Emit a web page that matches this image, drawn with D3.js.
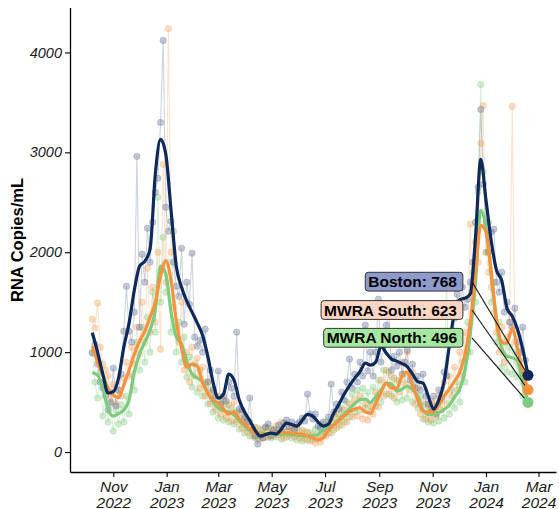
<!DOCTYPE html>
<html><head><meta charset="utf-8">
<script src="https://cdn.jsdelivr.net/npm/d3@7"></script>
<style>body{margin:0;background:#fff} svg{display:block}</style>
</head><body>
<svg id="c" width="559" height="509"></svg>
<script>
// ---------- DATA ----------
const seriesNames = ["Boston", "MWRA South", "MWRA North"];
const firstSample = "2022-10-08";   // date of first sample
const rawStepDays = 3;               // spacing of raw samples
const smoothStepDays = 6;            // spacing of smoothed trend values

const bostonRaw = [990,1080,880,700,640,560,420,500,840,460,
620,780,1210,1660,1210,1100,1400,2960,1250,1980,
1700,2240,1900,2300,2600,2740,3300,4120,2450,2210,
2310,1900,1660,1560,2040,1280,1700,1480,1990,1150,
1060,1120,1000,1230,700,820,620,560,810,480,
560,510,700,640,560,1200,430,420,350,300,
540,220,160,80,170,140,250,280,160,220,
190,270,200,290,320,250,300,220,280,300,
340,310,580,380,330,380,260,240,300,230,
350,680,400,480,430,600,520,700,930,640,
780,700,900,760,1270,810,1000,760,1000,1530,
900,1060,1270,1370,820,960,860,1000,780,900,
1020,720,880,640,760,620,780,560,480,400,
560,380,620,540,800,760,1150,1100,1340,1580,
1400,1650,1450,1530,1700,1900,2300,2650,3430,2680,
2300,2000,2200,2230,1700,1600,1800,1400,1500,1300,
1250,1440,1100,1000,1250,920,780];

const southRaw = [1330,1240,1490,1050,880,820,760,540,680,480,
620,560,740,900,760,1050,880,1250,980,1500,
1100,1840,1200,1650,1300,2000,1030,2880,1700,4240,
2000,1450,1250,1100,1500,820,1000,700,1050,760,
940,640,850,560,700,480,600,420,560,380,
520,340,470,310,500,300,400,240,330,200,
300,160,250,130,220,140,240,150,230,160,
260,170,300,140,250,170,230,150,240,140,
220,130,200,110,170,90,150,100,200,160,
280,190,340,240,380,270,420,300,480,350,
520,360,560,330,480,320,460,380,600,450,
720,560,820,580,760,540,720,600,900,680,
1000,620,800,480,640,380,500,330,460,320,
500,360,560,420,700,480,760,560,850,620,
1000,760,1200,1000,2280,1400,2100,1900,3090,3470,
2000,1800,1650,1400,1200,1000,1250,900,1150,1300,
3460,1100,900,1000,700,780,640];

const northRaw = [1000,700,540,800,360,620,300,480,210,420,
280,470,300,560,380,780,620,1100,820,1250,
900,1350,1000,1600,1200,2550,1500,2150,1600,1900,
1200,2210,1000,1300,900,1150,750,950,650,880,
600,820,560,700,480,640,400,560,340,500,
320,480,300,440,280,400,230,340,190,300,
160,250,140,240,130,230,150,240,140,220,
150,230,130,240,150,210,140,220,120,210,
110,200,120,190,120,230,140,280,170,300,
190,330,220,380,260,440,300,500,350,580,
400,620,420,640,440,600,400,650,460,720,
500,820,580,800,560,740,500,720,520,780,
540,760,500,680,440,560,330,480,300,440,
290,460,310,520,340,1700,380,620,440,700,
500,900,700,1300,1000,1800,1500,2600,3680,2800,
2000,2300,1500,1700,1100,1300,850,1100,800,1050,
780,1000,750,850,560,620,500];

const bostonSmooth = [1195,1000,780,590,605,740,1050,1290,1620,1860,
1910,2030,2780,3130,2980,2420,1860,1650,1510,1400,
1290,1170,960,700,540,580,780,720,520,400,
315,220,160,175,190,180,230,290,275,260,
320,377,360,300,260,280,390,480,580,665,
740,805,890,870,900,1060,990,930,910,885,
855,780,705,690,560,430,520,700,1060,1400,
1525,1540,1580,2150,2930,2520,2110,1820,1715,1440,
1360,1230,1030,768];

const southSmooth = [1060,900,770,640,570,545,670,820,980,1110,
1210,1350,1500,1760,1915,1720,1310,1040,850,880,
860,700,590,520,490,430,380,405,330,280,
230,190,177,177,185,193,195,193,192,185,
178,160,140,120,140,220,270,315,360,405,
430,443,400,390,490,600,690,640,640,760,
800,670,520,410,400,405,470,560,630,710,
800,980,1290,1800,2270,2200,1800,1330,1100,1090,
1240,1030,810,623];

const northSmooth = [795,770,640,430,360,385,420,520,800,980,
1100,1220,1420,1860,1780,1400,1150,1080,910,780,
740,700,590,500,440,415,400,370,310,260,
212,197,190,183,178,177,177,177,175,168,
162,160,165,180,225,250,278,330,383,435,
485,525,530,495,555,620,690,680,612,630,
660,625,560,420,375,377,395,425,468,550,
630,820,1180,1700,2420,2250,1780,1310,1040,960,
943,915,690,496];

const latestValues = [768, 623, 496];

const xTickDates = ["2022-11-01","2023-01-01","2023-03-01","2023-05-01","2023-07-01",
                    "2023-09-01","2023-11-01","2024-01-01","2024-03-01"];
const xTickMonths = ["Nov","Jan","Mar","May","Jul","Sep","Nov","Jan","Mar"];
const xTickYears  = ["2022","2023","2023","2023","2023","2023","2023","2024","2024"];
const yTicks = [0, 1000, 2000, 3000, 4000];

// ---------- STYLE ----------
const smoothColors = ["#0E2A5B", "#F8923E", "#7DCB7D"];
const rawColors    = ["#6F7DA0", "#F7964A", "#7DCB7A"];
const rawOpacity   = [0.42, 0.33, 0.36];
const boxFills     = ["#8E9ACB", "#FDD6C3", "#A5E8A1"];

const parse = d3.utcParse("%Y-%m-%d");
const t0 = parse(firstSample);

const series = seriesNames.map((name, k) => {
  const raw = [bostonRaw, southRaw, northRaw][k].map((v, i) => ({date: d3.utcDay.offset(t0, i * rawStepDays), v}));
  const sm  = [bostonSmooth, southSmooth, northSmooth][k].map((v, i) => ({date: d3.utcDay.offset(t0, i * smoothStepDays), v}));
  return {name, raw, sm, latest: latestValues[k], k};
});

const svg = d3.select("#c");
const x = d3.scaleUtc().domain([new Date(Date.UTC(2022, 8, 12, 12)), new Date(Date.UTC(2024, 2, 21))]).range([70, 556]);
const y = d3.scaleLinear().domain([-200, 4450]).range([472, 7.5]);

const font = "'Liberation Sans', Arial, Helvetica, sans-serif";

// raw lines + points (North, South, Boston order)
const drawOrder = [2, 1, 0];
const rawLine = d3.line().x(d => x(d.date)).y(d => y(d.v));
drawOrder.forEach(k => {
  const s = series[k];
  svg.append("path").attr("d", rawLine(s.raw)).attr("fill", "none")
    .attr("stroke", rawColors[k]).attr("stroke-opacity", rawOpacity[k] * 0.8).attr("stroke-width", 1.1);
});
drawOrder.forEach(k => {
  const s = series[k];
  svg.append("g").selectAll("circle").data(s.raw).join("circle")
    .attr("cx", d => x(d.date)).attr("cy", d => y(d.v)).attr("r", 3.2)
    .attr("fill", rawColors[k]).attr("fill-opacity", rawOpacity[k])
    .attr("stroke", rawColors[k]).attr("stroke-opacity", rawOpacity[k] * 0.9).attr("stroke-width", 0.8);
});

// smoothed lines
const smLine = d3.line().x(d => x(d.date)).y(d => y(d.v)).curve(d3.curveMonotoneX);
drawOrder.forEach(k => {
  svg.append("path").attr("d", smLine(series[k].sm)).attr("fill", "none")
    .attr("stroke", smoothColors[k]).attr("stroke-width", 3.2).attr("stroke-linejoin", "round");
});

// axes
const yAxis = d3.axisLeft(y).tickValues(yTicks).tickFormat(d3.format("d")).tickSize(5).tickPadding(3).tickSizeOuter(0);
const gy = svg.append("g").attr("transform", "translate(70,0)").call(yAxis);
gy.selectAll("text").attr("font-family", font).attr("font-size", 14.5).attr("font-style", "italic").attr("fill", "#1a1a1a");
gy.select(".domain").attr("stroke", "#000").attr("stroke-width", 1.3);
gy.selectAll(".tick line").attr("stroke", "#000").attr("stroke-width", 1.1);

const xAxis = d3.axisBottom(x).tickValues(xTickDates.map(parse)).tickSize(5).tickSizeOuter(0).tickFormat(() => "");
const gx = svg.append("g").attr("transform", "translate(0,472)").call(xAxis);
gx.select(".domain").attr("stroke", "#000").attr("stroke-width", 1.3);
gx.selectAll(".tick line").attr("stroke", "#000").attr("stroke-width", 1.1);
gx.selectAll(".tick text").each(function(d, i) {
  const t = d3.select(this).attr("y", 0).attr("dy", null)
    .attr("font-family", font).attr("font-size", 15.5).attr("font-style", "italic").attr("fill", "#1a1a1a");
  t.append("tspan").attr("x", 0).attr("y", 19.5).text(xTickMonths[i]);
  t.append("tspan").attr("x", 0).attr("y", 35.5).text(xTickYears[i]);
});

// y title
svg.append("text").attr("transform", "translate(23,240) rotate(-90)")
  .attr("text-anchor", "middle").attr("font-family", font).attr("font-weight", "bold")
  .attr("font-size", 16.5).attr("fill", "#000").text("RNA Copies/mL");

// labels, leader lines, end dots
const lastDate = series[0].sm[series[0].sm.length - 1].date;
const labelCenters = [281.7, 310, 337.8];
series.forEach((s, k) => {
  svg.append("line").attr("x1", 472).attr("y1", labelCenters[k])
    .attr("x2", x(lastDate)).attr("y2", y(s.latest))
    .attr("stroke", "#111").attr("stroke-width", 1.1);
});
series.forEach((s, k) => {
  const g = svg.append("g");
  const txt = g.append("text").attr("x", 457).attr("y", labelCenters[k] + 5.5)
    .attr("text-anchor", "end").attr("font-family", font).attr("font-weight", "bold")
    .attr("font-size", 15.5).attr("fill", "#000").text(`${s.name}: ${s.latest}`);
  const bb = txt.node().getBBox();
  g.insert("rect", "text").attr("x", bb.x - 3).attr("y", labelCenters[k] - 9.4)
    .attr("width", bb.width + 8.5).attr("height", 18.8).attr("rx", 3)
    .attr("fill", boxFills[k]).attr("stroke", "#333").attr("stroke-width", 1);
});
series.forEach((s, k) => {
  svg.append("circle").attr("cx", x(lastDate)).attr("cy", y(s.latest)).attr("r", 5.5)
    .attr("fill", smoothColors[k]);
});
</script>
</body></html>
